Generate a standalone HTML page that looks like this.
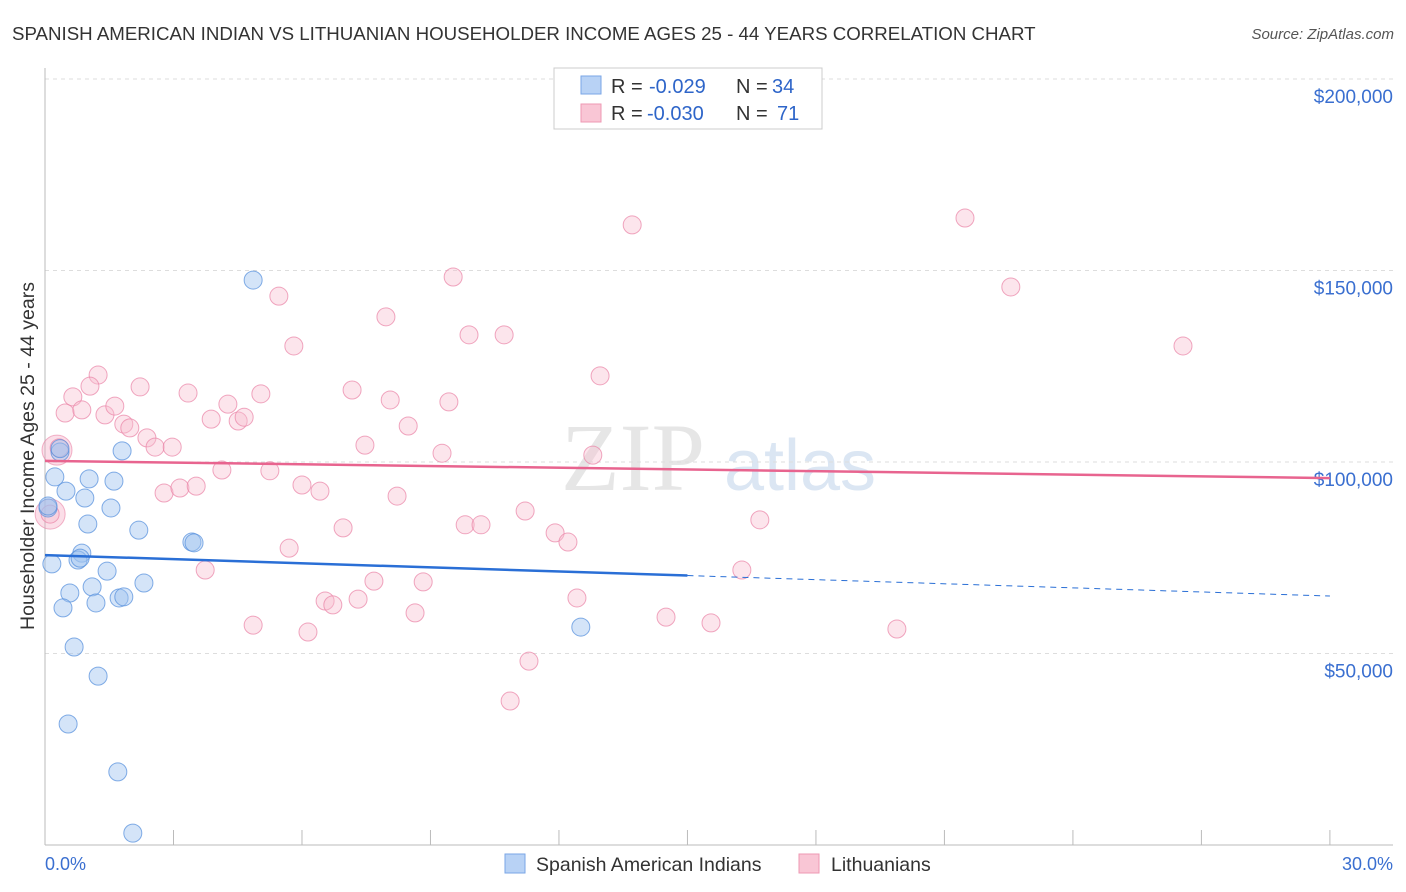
<!DOCTYPE html>
<html><head><meta charset="utf-8">
<style>
body{margin:0;background:#fff;font-family:"Liberation Sans",sans-serif;}
#wrap{position:relative;width:1406px;height:892px;overflow:hidden;}
</style></head>
<body>
<div id="wrap">
<svg id="svg" width="1406" height="892">
<text x="12" y="40" font-size="18.7" fill="#333">SPANISH AMERICAN INDIAN VS LITHUANIAN HOUSEHOLDER INCOME AGES 25 - 44 YEARS CORRELATION CHART</text>
<text x="1394" y="39" font-size="15" fill="#555" text-anchor="end" font-style="italic">Source: ZipAtlas.com</text>
<text x="633" y="490" font-size="96" fill="#e6e6e6" font-family="Liberation Serif,serif" text-anchor="middle">ZIP</text>
<text x="800" y="490" font-size="72" fill="#dbe6f3" text-anchor="middle">atlas</text>
<text transform="translate(34,456) rotate(-90)" font-size="19.5" fill="#333" text-anchor="middle">Householder Income Ages 25 - 44 years</text>
<g id="grid"></g><g id="pts"></g><g id="trend"></g>
<text x="45" y="870" font-size="18" fill="#3a6fd0">0.0%</text>
<text x="1393" y="870" font-size="18" fill="#3a6fd0" text-anchor="end">30.0%</text>
<g>
<rect x="554" y="68" width="268" height="61" fill="#fff" stroke="#ccc"/>
<rect x="581" y="76" width="20" height="18" fill="#b8d2f5" stroke="#7aa6e6"/>
<rect x="581" y="104" width="20" height="18" fill="#f9c6d5" stroke="#ee98b3"/>
<text x="611" y="93" font-size="20" fill="#333">R =</text>
<text x="649" y="93" font-size="20" fill="#2e65c9">-0.029</text>
<text x="736" y="93" font-size="20" fill="#333">N =</text>
<text x="772" y="93" font-size="20" fill="#2e65c9">34</text>
<text x="611" y="120" font-size="20" fill="#333">R =</text>
<text x="647" y="120" font-size="20" fill="#2e65c9">-0.030</text>
<text x="736" y="120" font-size="20" fill="#333">N =</text>
<text x="777" y="120" font-size="20" fill="#2e65c9">71</text>
</g>
<g><rect x="505" y="854" width="20" height="19" fill="#b8d2f5" stroke="#7aa6e6"/><text x="536" y="871" font-size="19.5" fill="#333">Spanish American Indians</text></g>
<g><rect x="799" y="854" width="20" height="19" fill="#f9c6d5" stroke="#ee98b3"/><text x="831" y="871" font-size="19.5" fill="#333">Lithuanians</text></g>
</svg>
</div>
<script>
const yTicks=[50,100,150,200];
const yTickLabels=["$50,000","$100,000","$150,000","$200,000"];
const blueX=[4.86,0.35,1.80,0.23,0.49,1.03,1.61,0.93,0.07,1.54,1.00,2.19,3.43,3.48,0.86,0.77,0.16,1.45,1.10,2.31,0.58,1.73,1.84,1.19,0.42,0.68,1.24,0.54,1.70,2.05,12.51,0.07,0.82,0.35];
const blueY=[147.5,102.6,102.9,96.1,92.4,95.6,95.0,90.6,88.0,88.0,83.8,82.2,79.1,78.9,76.2,74.4,73.4,71.5,67.4,68.4,65.8,64.5,64.8,63.2,61.9,51.7,44.1,31.6,19.1,3.1,56.9,88.5,74.9,103.5];
const pinkX=[13.71,21.48,22.55,26.57,5.46,9.53,5.81,7.96,9.90,10.72,12.96,1.24,0.65,1.05,2.22,0.47,0.86,1.40,1.63,1.84,1.98,3.34,4.27,5.04,3.88,4.51,4.65,7.17,8.06,9.43,2.38,2.57,2.97,0.33,8.48,7.47,9.27,12.79,4.13,5.25,2.78,3.15,3.53,6.00,6.42,8.22,11.21,16.69,6.96,9.81,10.18,11.91,12.21,5.70,3.74,7.68,8.83,16.27,12.42,6.54,6.72,7.31,8.64,4.86,6.14,14.50,15.55,19.89,11.30,10.86,0.12];
const pinkY=[161.9,163.7,145.7,130.3,143.3,148.3,130.3,137.9,133.2,133.2,122.5,122.7,117.0,119.8,119.6,112.8,113.6,112.3,114.6,109.9,108.9,118.0,115.1,117.8,111.2,110.7,111.7,118.8,116.2,115.7,106.3,103.9,103.9,103.7,109.4,104.4,102.3,101.8,97.9,97.7,91.9,93.2,93.7,94.0,92.4,91.1,87.2,84.9,82.8,83.6,83.6,81.5,79.1,77.5,71.8,68.9,68.7,71.8,64.5,63.7,62.7,64.2,60.6,57.4,55.6,59.5,58.0,56.4,48.0,37.6,86.4];
const bigPinkX=[0.28,0.12];
const bigPinkY=[103.1,86.4];
const blueTrend=[75.7,65.0];
const pinkTrend=[100.3,95.8];
const blueSolidEnd=15;
const NS="http://www.w3.org/2000/svg";
const X=v=>45+v*42.83, Y=v=>845-v*3.83;
function mk(t,a,p){const e=document.createElementNS(NS,t);for(const k in a)e.setAttribute(k,a[k]);p.appendChild(e);return e;}
const grid=document.getElementById('grid'),pts=document.getElementById('pts'),tr=document.getElementById('trend');
yTicks.forEach((t,i)=>{
 const l=mk('line',{x1:45,x2:1393,y1:Y(t),y2:Y(t),stroke:'#ddd','stroke-dasharray':'4,4'},grid);
 
 
 const tx=mk('text',{x:1393,y:Y(t)+24,'font-size':19,fill:'#3a6fd0','text-anchor':'end'},grid);
 tx.textContent=yTickLabels[i];
 
 
});
mk('line',{x1:45,x2:45,y1:68,y2:845,stroke:'#bbb'},grid);
mk('line',{x1:45,x2:1393,y1:845,y2:845,stroke:'#bbb'},grid);
for(let i=0;i<=10;i++){const tk=mk('line',{x1:X(i*3),x2:X(i*3),y1:830,y2:845,stroke:'#bbb'},grid);
 
 }
bigPinkX.forEach((x,i)=>{const c=mk('circle',{cx:X(x),cy:Y(bigPinkY[i]),r:15,fill:'rgba(244,160,188,0.35)',stroke:'rgba(234,130,165,0.6)'},pts);
 
 });
pinkX.forEach((x,i)=>{const c=mk('circle',{cx:X(x),cy:Y(pinkY[i]),r:9,fill:'rgba(248,190,208,0.4)',stroke:'rgba(234,130,165,0.7)'},pts);
 
 });
blueX.forEach((x,i)=>{const c=mk('circle',{cx:X(x),cy:Y(blueY[i]),r:9,fill:'rgba(160,195,240,0.45)',stroke:'rgba(80,140,220,0.7)'},pts);
 
 });
const bAt=v=>blueTrend[0]+(blueTrend[1]-blueTrend[0])*v/30;
const l1=mk('line',{x1:X(0),y1:Y(bAt(0)),x2:X(blueSolidEnd),y2:Y(bAt(blueSolidEnd)),stroke:'#2a6fd6','stroke-width':2.5},tr);


const l2=mk('line',{x1:X(blueSolidEnd),y1:Y(bAt(blueSolidEnd)),x2:X(30),y2:Y(bAt(30)),stroke:'#2a6fd6','stroke-width':1,'stroke-dasharray':'6,5'},tr);


const l3=mk('line',{x1:X(0),y1:Y(pinkTrend[0]),x2:X(30),y2:Y(pinkTrend[1]),stroke:'#e8648f','stroke-width':2.5},tr);


</script>
</body></html>
